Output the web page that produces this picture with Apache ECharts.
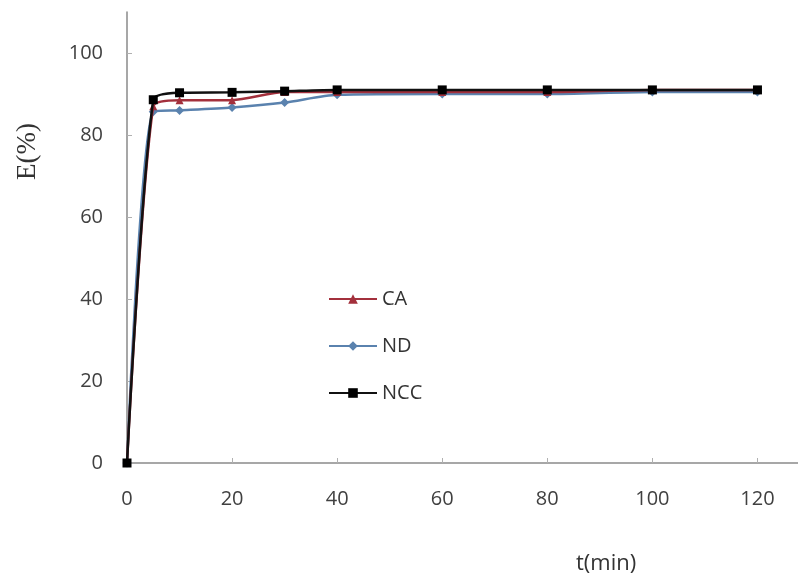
<!DOCTYPE html>
<html>
<head>
<meta charset="utf-8">
<script src="https://cdn.jsdelivr.net/npm/echarts@6/dist/echarts.min.js"></script>
<style>html,body{margin:0;padding:0;background:#fff}#c{width:798px;height:582px}</style>
</head>
<body>
<div id="c"></div>
<script>
var times = [0, 5, 10, 20, 30, 40, 60, 80, 100, 120];
var seriesNames = ['CA', 'ND', 'NCC'];
var caValues  = [0, 87.0, 88.5, 88.5, 90.5, 90.5, 90.5, 90.5, 91.0, 91.0];
var ndValues  = [0, 85.7, 86.0, 86.7, 87.9, 89.8, 90.0, 90.0, 90.5, 90.5];
var nccValues = [0, 88.6, 90.3, 90.4, 90.7, 91.0, 91.0, 91.0, 91.0, 91.0];
var xTicks = [0, 20, 40, 60, 80, 100, 120];
var yTicks = [0, 20, 40, 60, 80, 100];
var xTitle = 't(min)';
var yTitle = 'E(%)';

function pairs(xs, ys){ return xs.map(function(x,i){ return [x, ys[i]]; }); }

var chart = echarts.init(document.getElementById('c'));
var labelFont = {fontFamily: 'Open Sans', fontSize: 20, color: '#404040'};
chart.setOption({
  animation: false,
  backgroundColor: '#ffffff',
  grid: {left: 127, right: -12, top: 12, bottom: 119, containLabel: false, outerBoundsMode: 'none'},
  legend: {
    orient: 'vertical', left: 323, top: 284,
    itemWidth: 48, itemHeight: 12, itemGap: 27,
    data: seriesNames,
    textStyle: {fontFamily: 'Open Sans', fontSize: 20, color: '#333'}
  },
  graphic: [
    {type: 'text', left: 576, top: 553, style: {text: xTitle, font: '22px "Open Sans"', fill: '#333'}},
    {type: 'text', x: 14, y: 180, rotation: Math.PI / 2,
     style: {text: yTitle, font: '27px "Liberation Serif"', fill: '#333'}}
  ],
  xAxis: {
    type: 'value', min: 0, max: 130, interval: 20,
    axisLine: {lineStyle: {color: '#8a8a8a', width: 1.5}},
    axisTick: {inside: true, length: 5, lineStyle: {color: '#b0b0b0'}},
    axisLabel: Object.assign({margin: 26, showMaxLabel: false, formatter: function(v){ return xTicks.indexOf(v) >= 0 ? String(v) : ''; }}, labelFont),
    splitLine: {show: false}
  },
  yAxis: {
    type: 'value', min: 0, max: 110, interval: 20,
    axisLine: {show: true, lineStyle: {color: '#8a8a8a', width: 1.5}},
    axisTick: {show: true, inside: true, length: 5, lineStyle: {color: '#b0b0b0'}},
    axisLabel: Object.assign({margin: 24, showMaxLabel: false, formatter: function(v){ return yTicks.indexOf(v) >= 0 ? String(v) : ''; }}, labelFont),
    splitLine: {show: false}
  },
  series: [
    {name: 'CA', type: 'line', smooth: 0.25, data: pairs(times, caValues),
     symbol: 'triangle', symbolSize: 8, z: 3,
     itemStyle: {color: '#A3303C'}, lineStyle: {color: '#A3303C', width: 2.5}},
    {name: 'ND', type: 'line', smooth: 0.25, data: pairs(times, ndValues),
     symbol: 'diamond', symbolSize: 9, z: 2,
     itemStyle: {color: '#5A82AE'}, lineStyle: {color: '#5A82AE', width: 2.5}},
    {name: 'NCC', type: 'line', smooth: 0.25, data: pairs(times, nccValues),
     symbol: 'rect', symbolSize: 9, z: 4,
     itemStyle: {color: '#000000'}, lineStyle: {color: '#111111', width: 2.5}}
  ]
});
</script>
</body>
</html>
